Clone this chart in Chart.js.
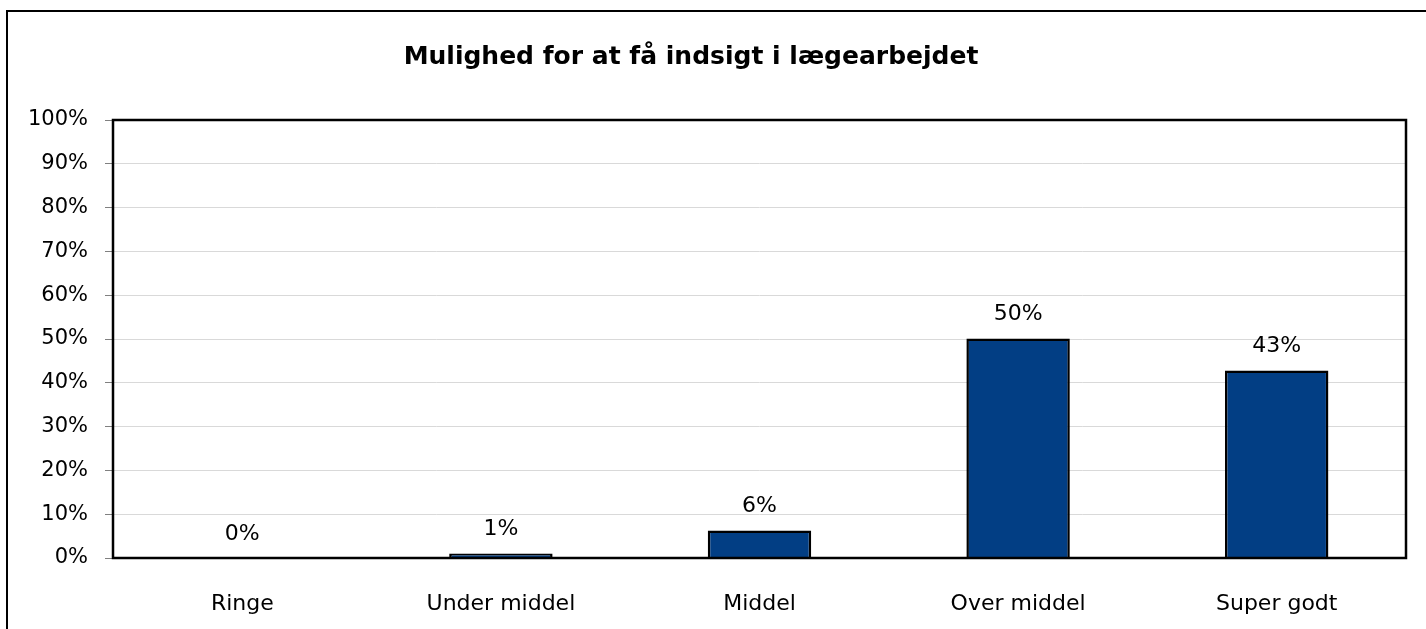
<!DOCTYPE html>
<html>
<head>
<meta charset="utf-8">
<script src="https://cdn.jsdelivr.net/npm/chart.js@4"></script>
<style>
  html, body { margin: 0; padding: 0; background: #fff; }
  #wrap { width: 1426px; height: 629px; }
</style>
</head>
<body>
<div id="wrap"><canvas id="grafica"></canvas></div>
<script>
const titel = 'Mulighed for at få indsigt i lægearbejdet';
const kategorier = ['Ringe', 'Under middel', 'Middel', 'Over middel', 'Super godt'];
const andele = [0, 1.0, 6.3, 50.1, 42.8];
const yMax = 100;
const yStep = 10;

const skrift = 'DejaVu Sans';

// ramme rundt om hele figuren + plotramme + titel
const ramme = {
  id: 'ramme',
  beforeDraw(chart) {
    const ctx = chart.ctx;
    ctx.save();
    ctx.fillStyle = '#fff';
    ctx.fillRect(0, 0, chart.width, chart.height);
    ctx.strokeStyle = '#000';
    ctx.lineWidth = 2;
    ctx.beginPath();
    ctx.moveTo(7, chart.height);
    ctx.lineTo(7, 11);
    ctx.lineTo(chart.width, 11);
    ctx.stroke();
    ctx.fillStyle = '#000';
    ctx.font = 'bold 25px "' + skrift + '"';
    ctx.textAlign = 'center';
    ctx.textBaseline = 'middle';
    ctx.fillText(titel, 691, 57);
    ctx.restore();
  },
  afterDraw(chart) {
    const a = chart.chartArea;
    const ctx = chart.ctx;
    ctx.save();
    ctx.strokeStyle = '#000';
    ctx.lineWidth = 2.5;
    ctx.strokeRect(a.left, a.top, a.right - a.left, a.bottom - a.top);
    ctx.restore();
  }
};

// procent over hver søjle
const etiketter = {
  id: 'etiketter',
  afterDatasetsDraw(chart) {
    const ctx = chart.ctx;
    const meta = chart.getDatasetMeta(0);
    ctx.save();
    ctx.fillStyle = '#000';
    ctx.font = '22px "' + skrift + '"';
    ctx.textAlign = 'center';
    ctx.textBaseline = 'middle';
    meta.data.forEach((bar, i) => {
      ctx.fillText(Math.round(andele[i]) + '%', bar.x, bar.y - 24);
    });
    ctx.restore();
  }
};

new Chart(document.getElementById('grafica'), {
  type: 'bar',
  data: {
    labels: kategorier,
    datasets: [{
      data: andele,
      backgroundColor: '#023E84',
      borderColor: '#000',
      borderWidth: 2.5,
      borderSkipped: 'bottom',
      barPercentage: 0.4,
      categoryPercentage: 1
    }]
  },
  options: {
    responsive: true,
    maintainAspectRatio: false,
    animation: false,
    layout: { padding: { top: 120, right: 20, bottom: 0, left: 0 } },
    plugins: {
      legend: { display: false },
      title: { display: false },
      tooltip: { enabled: false }
    },
    scales: {
      x: {
        grid: { display: false },
        border: { display: false },
        ticks: {
          color: '#000',
          padding: 25,
          font: { family: skrift, size: 22 }
        },
        afterFit(s) { s.height = 71; }
      },
      y: {
        min: 0,
        max: yMax,
        grid: { color: '#d9d9d9', lineWidth: 1, tickLength: 8, tickColor: '#808080' },
        border: { display: false },
        ticks: {
          stepSize: yStep,
          color: '#000',
          padding: 17,
          font: { family: skrift, size: 21 },
          callback: v => v + '%'
        },
        afterFit(s) { s.width = 113; }
      }
    }
  },
  plugins: [ramme, etiketter]
});
</script>
</body>
</html>
